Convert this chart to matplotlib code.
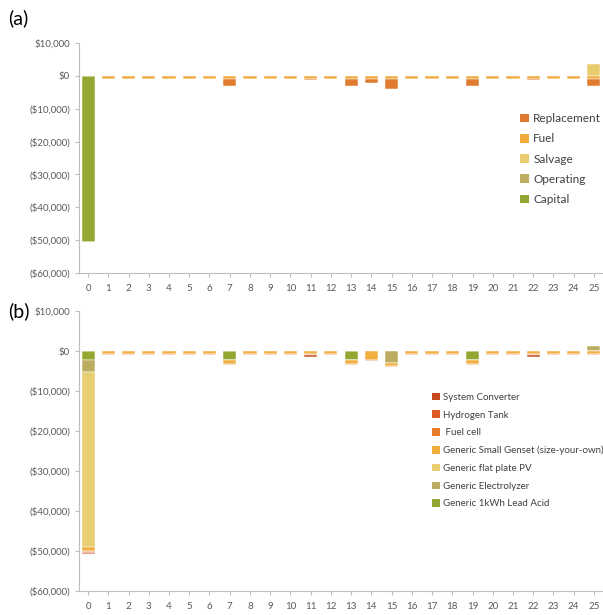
import numpy as np
import matplotlib
matplotlib.use("Agg")
import matplotlib.pyplot as plt
from matplotlib.ticker import FuncFormatter, MultipleLocator
from matplotlib.patches import Patch

plt.rcParams['font.family'] = ['Lato', 'DejaVu Sans']

years = list(range(26))

# (a) cash flow by cost type
cost_types = ["Replacement", "Fuel", "Salvage", "Operating", "Capital"]
replacement = [0, 0, 0, 0, 0, 0, 0, -2200, 0, 0, 0, -500, 0, -2200, -1300, -3000,
               0, 0, 0, -2200, 0, 0, -500, 0, 0, -2200]
fuel = [0] + [-900] * 25
salvage = [0] * 25 + [3500]
operating = [0] * 26
capital = [-50600] + [0] * 25
cost_colors = ["#E07A2E", "#F2A93B", "#E8CC6E", "#BDAE5F", "#93A733"]

# (b) cash flow by component
components = ["System Converter", "Hydrogen Tank", " Fuel cell",
              "Generic Small Genset (size-your-own)", "Generic flat plate PV",
              "Generic Electrolyzer", "Generic 1kWh Lead Acid"]
system_converter = [-300] + [0] * 10 + [-400] + [0] * 10 + [-400] + [0] * 3
hydrogen_tank = [-200] + [0] * 25
fuel_cell = [-200] + [-300] * 25
genset = [-1200, -800, -800, -800, -800, -800, -800, -900, -800, -800, -800, -800,
          -800, -900, -2300, -900, -800, -800, -800, -900, -800, -800, -800, -800,
          -800, -800]
flat_pv = [-43700] + [0] * 25
electrolyzer = [-3000] + [0] * 14 + [-2900] + [0] * 9 + [1300]
lead_acid = [-2200] + [0] * 6 + [-2300] + [0] * 5 + [-2300] + [0] * 5 + [-2300] + [0] * 6
component_colors = ["#C44A1C", "#DE5A24", "#E57E2C", "#F2AE3E", "#E9CD72",
                    "#BCAC60", "#93A733"]


def money(v, _pos):
    v = int(round(v))
    if v < 0:
        return "(${:,})".format(-v)
    return "${:,}".format(v)


def stacked(ax, series, colors):
    """Stack series outward from zero; first series sits closest to zero."""
    x = np.array(years)
    pos_base = np.zeros(len(x))
    neg_base = np.zeros(len(x))
    for vals, c in zip(series, colors):
        v = np.array(vals, dtype=float)
        pos = np.where(v > 0, v, 0)
        neg = np.where(v < 0, v, 0)
        if pos.any():
            ax.bar(x, pos, bottom=pos_base, width=0.65, color=c,
                   edgecolor="white", linewidth=0.35)
        if neg.any():
            ax.bar(x, neg, bottom=neg_base, width=0.65, color=c,
                   edgecolor="white", linewidth=0.35)
        pos_base += pos
        neg_base += neg


def style(ax):
    ax.set_xlim(-0.45, 25.45)
    ax.set_ylim(-60000, 10000)
    ax.yaxis.set_major_locator(MultipleLocator(10000))
    ax.yaxis.set_major_formatter(FuncFormatter(money))
    ax.set_xticks(years)
    for s in ("top", "right"):
        ax.spines[s].set_visible(False)
    for s in ("left", "bottom"):
        ax.spines[s].set_color("#BFBFBF")
        ax.spines[s].set_linewidth(0.8)
    ax.tick_params(axis="both", colors="#BFBFBF", labelcolor="#595959",
                   labelsize=7, length=3, width=0.8)
    ax.tick_params(axis="x", pad=5)


fig = plt.figure(figsize=(6.03, 6.15), dpi=100)
W, H = 603.0, 615.0

ax_a = fig.add_axes([79 / W, 1 - 273 / H, 524 / W, 230 / H])
stacked(ax_a, [capital, operating, salvage, fuel, replacement],
        cost_colors[::-1])
style(ax_a)
handles_a = [Patch(facecolor=c, edgecolor="none") for c in cost_colors]
ax_a.legend(handles_a, cost_types, loc="upper left",
            bbox_to_anchor=(512 / W, 1 - 105 / H), bbox_transform=fig.transFigure,
            frameon=False, fontsize=8.5, handlelength=0.75, handleheight=0.75,
            handletextpad=0.35, labelspacing=0.78, labelcolor="#404040",
            borderpad=0.2)

ax_b = fig.add_axes([79 / W, 1 - 591 / H, 524 / W, 280 / H])
stacked(ax_b, [lead_acid, electrolyzer, flat_pv, genset, fuel_cell,
               hydrogen_tank, system_converter], component_colors[::-1])
style(ax_b)
handles_b = [Patch(facecolor=c, edgecolor="none") for c in component_colors]
ax_b.legend(handles_b, components, loc="upper left",
            bbox_to_anchor=(425 / W, 1 - 386 / H), bbox_transform=fig.transFigure,
            frameon=False, fontsize=7.0, handlelength=0.8, handleheight=0.8,
            handletextpad=0.4, labelspacing=0.88, labelcolor="#404040",
            borderpad=0.2)

fig.text(8 / W, 1 - 18 / H, "(a)", fontsize=14, va="center", ha="left")
fig.text(8 / W, 1 - 311 / H, "(b)", fontsize=14, va="center", ha="left")

fig.savefig("out.png", dpi=100)
